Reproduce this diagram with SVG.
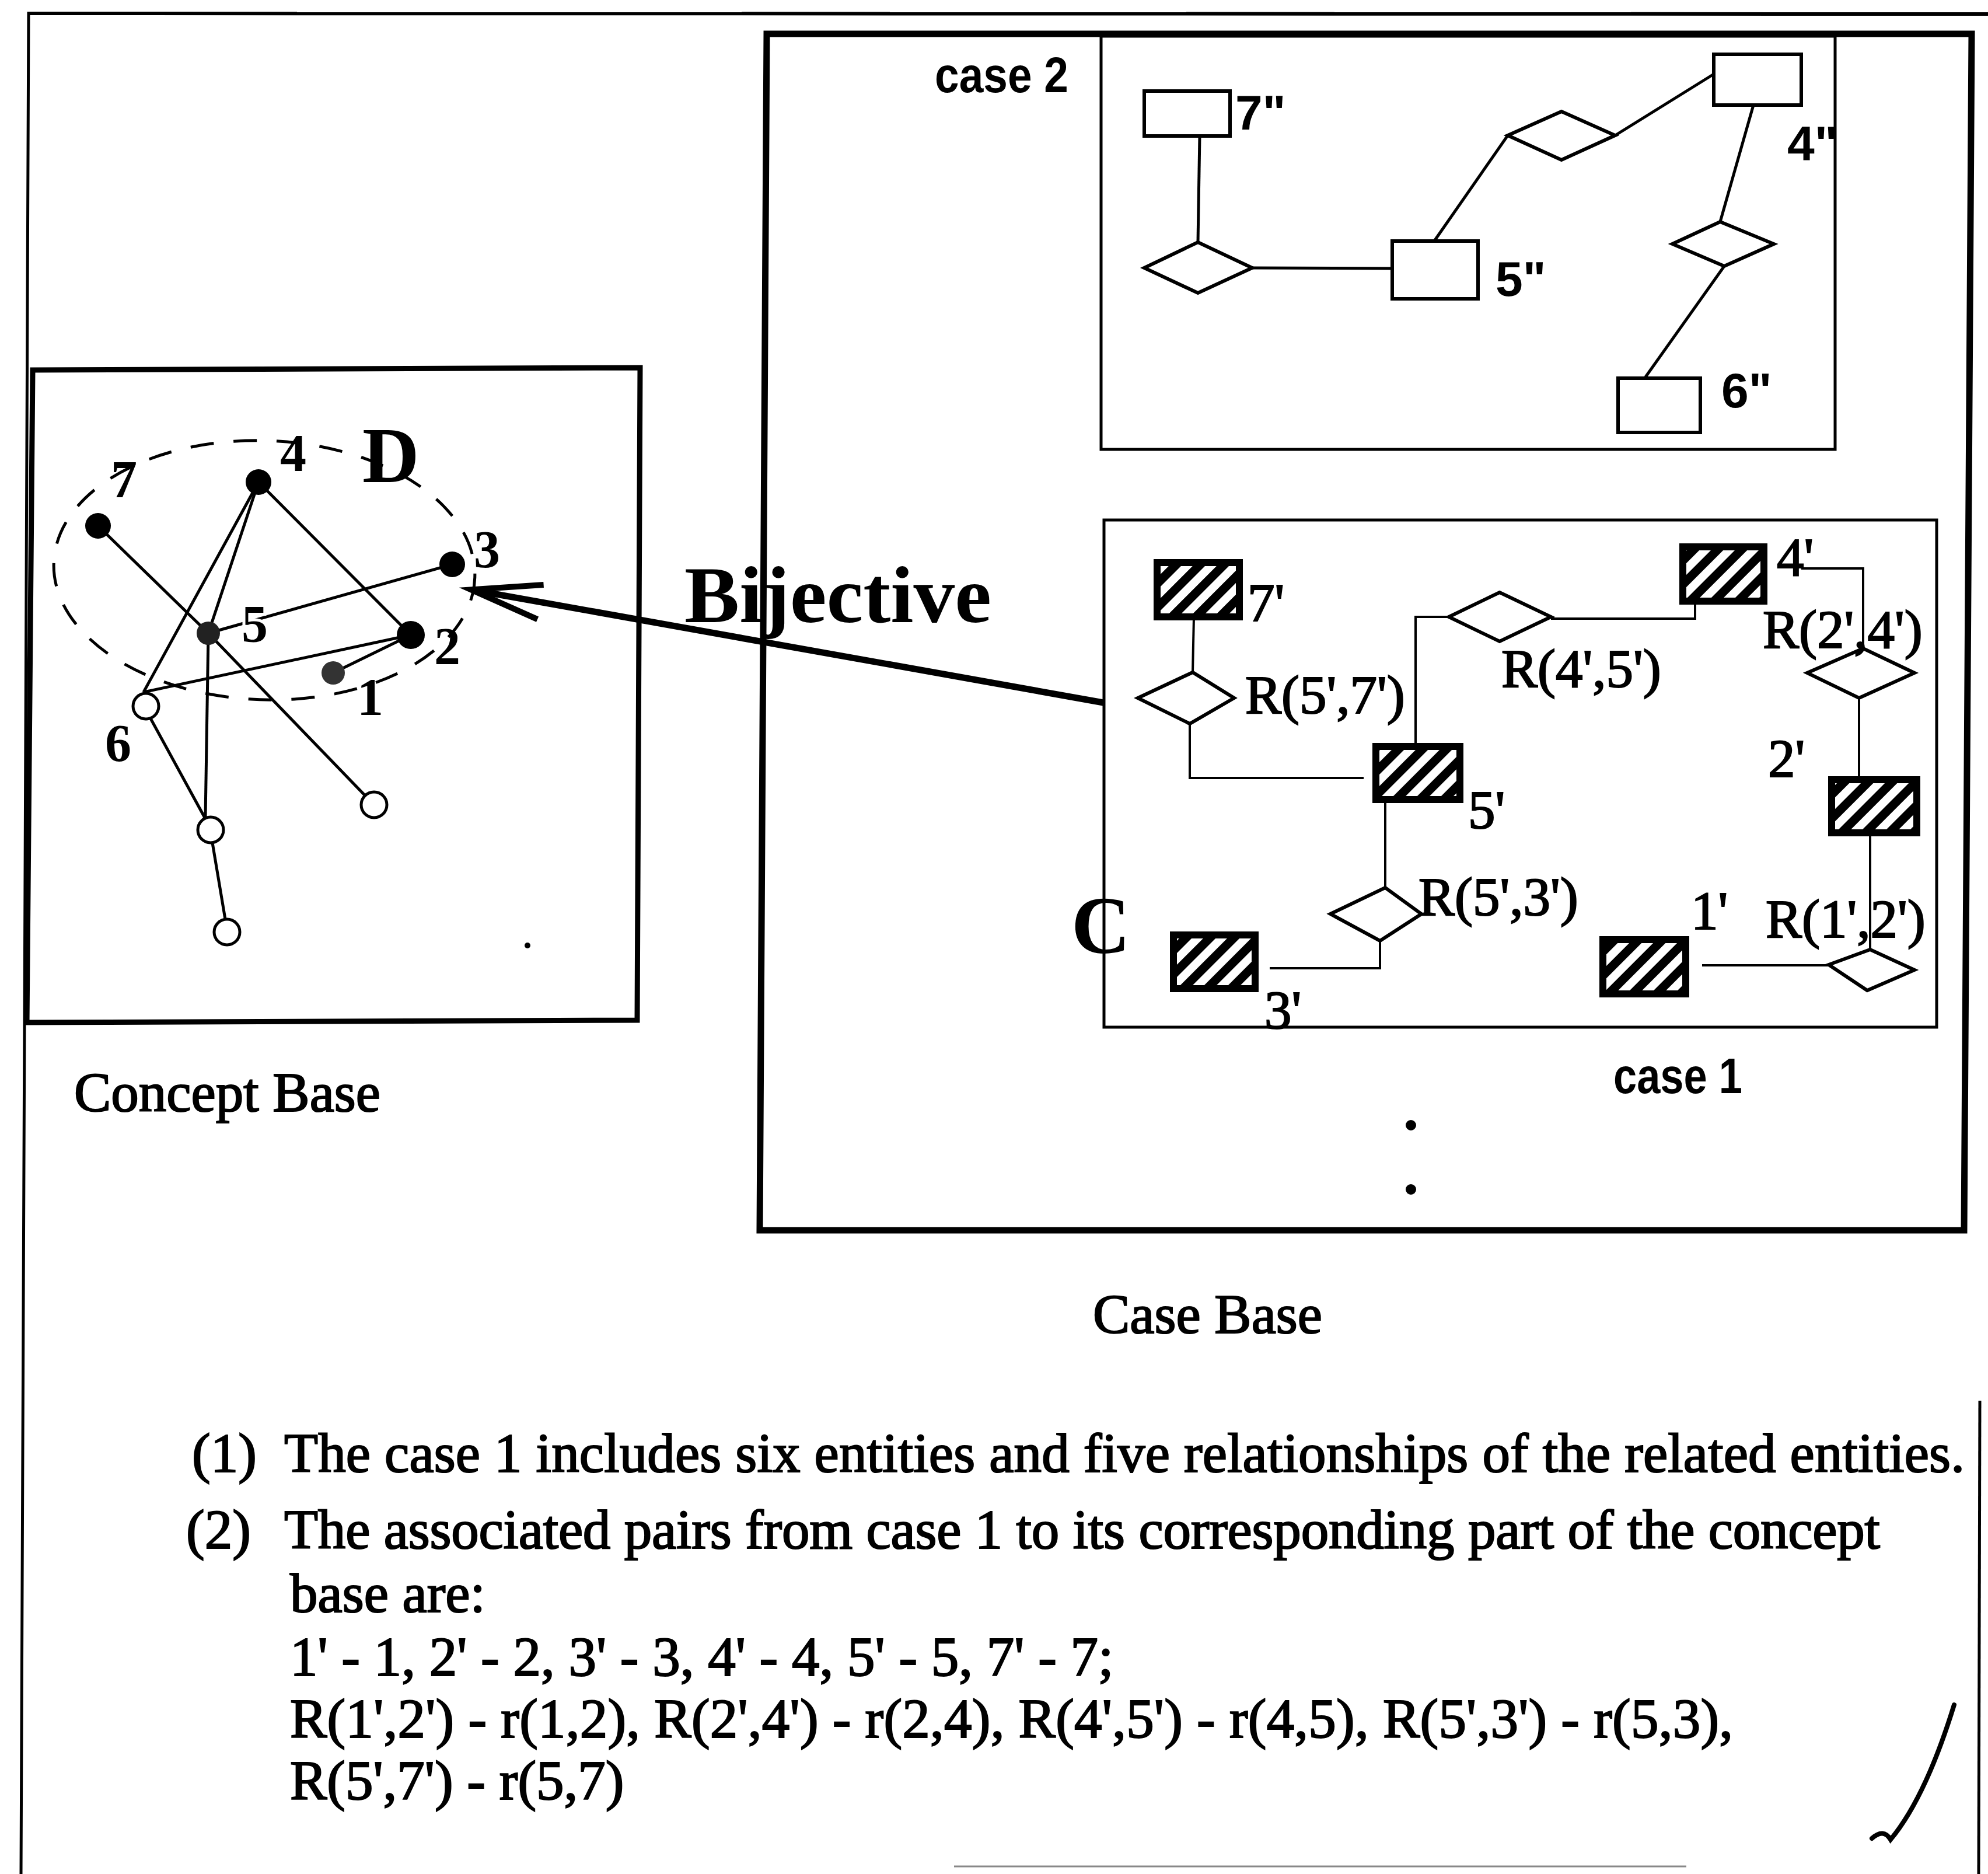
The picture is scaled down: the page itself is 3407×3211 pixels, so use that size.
<svg xmlns="http://www.w3.org/2000/svg" width="3407" height="3211" viewBox="0 0 3407 3211">
<style>
.ser{font-family:"Liberation Serif","Times New Roman",serif;fill:#000;stroke:#000;stroke-width:2.2}
.serb{font-family:"Liberation Serif","Times New Roman",serif;font-weight:bold;fill:#000}
.sb{font-family:"Liberation Sans",Arial,sans-serif;font-weight:bold;fill:#000}
.body{font-size:95px}
.lbl1{font-size:93px}
.lbl2{font-size:84px}
.num{font-size:90px}
.frame{fill:none;stroke:#000}
.ln{fill:none;stroke:#000;stroke-width:5}
.ln4{fill:none;stroke:#000;stroke-width:4}
.ent2{fill:#fff;stroke:#000;stroke-width:6}
.ent1{fill:url(#hatch);stroke:#000;stroke-width:12}
.rel{fill:#fff;stroke:#000;stroke-width:6}
.dot{fill:#000}
.open{fill:#fff;stroke:#000;stroke-width:5}
</style>
<defs>
<pattern id="hatch" width="29" height="29" patternUnits="userSpaceOnUse" patternTransform="rotate(45)">
<rect width="29" height="29" fill="#000"/>
<rect width="14" height="29" fill="#fff"/>
</pattern>
<marker id="vhead" markerUnits="userSpaceOnUse" viewBox="-135 -45 175 90" markerWidth="175" markerHeight="90" refX="-15" refY="0" orient="auto">
<path d="M-121,-30 L0,0 L-121,30" fill="none" stroke="#000" stroke-width="10" stroke-linejoin="miter" stroke-miterlimit="10"/>
</marker>
</defs>
<rect width="3407" height="3211" fill="#fff"/>

<g id="page-frame">
<line x1="47" y1="23" x2="3407" y2="24" stroke="#000" stroke-width="6"/>
<polyline points="49,20 42,1750 36,3211" fill="none" stroke="#000" stroke-width="5"/>
<line x1="3393" y1="2400" x2="3391" y2="3211" stroke="#000" stroke-width="5"/>
<line x1="1635" y1="3198" x2="2890" y2="3198" stroke="#888" stroke-width="3"/>
<path d="M3349,2921 Q3300,3080 3240,3152 Q3228,3132 3208,3150" fill="none" stroke="#000" stroke-width="8" stroke-linecap="round"/>
</g>

<g id="concept-base">
<polygon class="frame" points="56,634 1097,630 1092,1748 46,1752" stroke-width="9"/>
<ellipse cx="453" cy="977" rx="361" ry="222" transform="rotate(2 453 977)" fill="none" stroke="#000" stroke-width="5" stroke-dasharray="40 34"/>
<text class="serb" x="621" y="826" font-size="135">D</text>
</g>

<g id="case-base">
<polygon class="frame" points="1314,58 3379,58 3366,2108 1302,2108" stroke-width="11"/>
<rect id="case2-box" class="frame" x="1887" y="62" width="1258" height="708" stroke-width="5"/>
<rect id="case1-box" class="frame" x="1892" y="891" width="1427" height="869" stroke-width="5"/>
<text class="sb" x="1602" y="158" font-size="86" textLength="229" lengthAdjust="spacingAndGlyphs">case 2</text>
<text class="sb" x="2765" y="1873" font-size="86" textLength="221" lengthAdjust="spacingAndGlyphs">case 1</text>
<text class="serb" x="1836" y="1633" font-size="140">C</text>
<circle cx="2418" cy="1928" r="9" fill="#000"/>
<circle cx="2418" cy="2038" r="9" fill="#000"/>
</g>

<g id="connectors">
<polyline class="ln" points="168,901 357,1085 641,1379"/>
<line class="ln" x1="443" y1="826" x2="704" y2="1088"/>
<line class="ln" x1="443" y1="826" x2="357" y2="1085"/>
<line class="ln" x1="443" y1="826" x2="246" y2="1186"/>
<line class="ln" x1="357" y1="1085" x2="775" y2="967"/>
<line class="ln" x1="246" y1="1186" x2="704" y2="1088"/>
<line class="ln" x1="704" y1="1088" x2="571" y2="1153"/>
<line class="ln" x1="357" y1="1085" x2="352" y2="1400"/>
<line class="ln" x1="258" y1="1231" x2="352" y2="1403"/>
<line class="ln" x1="364" y1="1444" x2="386" y2="1575"/>
<line class="ln" x1="2056" y1="233" x2="2053" y2="415"/>
<line class="ln" x1="2145" y1="459" x2="2386" y2="460"/>
<line class="ln" x1="2458" y1="413" x2="2584" y2="232"/>
<line class="ln" x1="2768" y1="232" x2="2937" y2="127"/>
<line class="ln" x1="3005" y1="180" x2="2948" y2="380"/>
<line class="ln" x1="2955" y1="456" x2="2820" y2="646"/>
<line class="ln4" x1="2046" y1="1057" x2="2044" y2="1152"/>
<polyline class="ln4" points="2039,1240 2039,1333 2337,1333"/>
<polyline class="ln4" points="2426,1279 2426,1057 2483,1057"/>
<polyline class="ln4" points="2658,1060 2905,1060 2905,1030"/>
<polyline class="ln4" points="3087,974 3193,974 3193,1111"/>
<line class="ln4" x1="3186" y1="1196" x2="3186" y2="1336"/>
<line class="ln4" x1="3205" y1="1427" x2="3205" y2="1627"/>
<line class="ln4" x1="2917" y1="1654" x2="3134" y2="1654"/>
<line class="ln4" x1="2374" y1="1370" x2="2374" y2="1521"/>
<polyline class="ln4" points="2365,1612 2365,1659 2176,1659"/>
<line id="bijective-arrow" x1="1891" y1="1204" x2="822" y2="1013" stroke="#000" stroke-width="11" marker-end="url(#vhead)"/>
<text class="serb" x="1173" y="1066" font-size="138" textLength="526" lengthAdjust="spacingAndGlyphs">Bijective</text>
</g>

<g id="cb-node-7"><circle class="dot" cx="168" cy="901" r="22"/><text class="serb num" x="190" y="852">7</text></g>
<g id="cb-node-4"><circle class="dot" cx="443" cy="826" r="22"/><text class="serb num" x="480" y="807">4</text></g>
<g id="cb-node-3"><circle class="dot" cx="775" cy="967" r="22"/><text class="serb num" x="812" y="972">3</text></g>
<g id="cb-node-5"><circle cx="357" cy="1085" r="20" fill="#222"/><text class="serb num" x="414" y="1100" stroke="#fff" stroke-width="10" paint-order="stroke">5</text></g>
<g id="cb-node-2"><circle class="dot" cx="704" cy="1088" r="24"/><text class="serb num" x="744" y="1138">2</text></g>
<g id="cb-node-1"><circle cx="571" cy="1153" r="20" fill="#333"/><text class="serb num" x="612" y="1225">1</text></g>
<g id="cb-node-6"><circle class="open" cx="250" cy="1210" r="22"/><text class="serb num" x="180" y="1304">6</text></g>
<g id="cb-node-a"><circle class="open" cx="641" cy="1379" r="22"/></g>
<g id="cb-node-b"><circle class="open" cx="361" cy="1422" r="22"/></g>
<g id="cb-node-c"><circle class="open" cx="389" cy="1597" r="22"/></g>
<circle cx="904" cy="1620" r="5" fill="#000"/>

<g id="c2-entity-7"><rect class="ent2" x="1961" y="156" width="147" height="77"/><text class="sb lbl2" x="2117" y="222">7"</text></g>
<g id="c2-entity-5"><rect class="ent2" x="2386" y="413" width="147" height="99"/><text class="sb lbl2" x="2563" y="507">5"</text></g>
<g id="c2-entity-4"><rect class="ent2" x="2937" y="93" width="150" height="87"/><text class="sb lbl2" x="3063" y="275">4"</text></g>
<g id="c2-entity-6"><rect class="ent2" x="2773" y="648" width="141" height="93"/><text class="sb lbl2" x="2950" y="698">6"</text></g>
<g id="c2-rel-57"><polygon class="rel" points="1961,459 2053,415 2146,459 2053,502"/></g>
<g id="c2-rel-45"><polygon class="rel" points="2584,232 2676,191 2768,232 2676,274"/></g>
<g id="c2-rel-46"><polygon class="rel" points="2866,418 2948,380 3040,418 2955,456"/></g>

<g id="c1-entity-7"><rect class="ent1" x="1983" y="964" width="141" height="93"/><text class="ser lbl1" x="2138" y="1064">7'</text></g>
<g id="c1-entity-5"><rect class="ent1" x="2358" y="1279" width="144" height="91"/><text class="ser lbl1" x="2516" y="1419">5'</text></g>
<g id="c1-entity-4"><rect class="ent1" x="2884" y="937" width="139" height="93"/><text class="ser lbl1" x="3045" y="986">4'</text></g>
<g id="c1-entity-2"><rect class="ent1" x="3139" y="1336" width="146" height="91"/><text class="ser lbl1" x="3030" y="1331">2'</text></g>
<g id="c1-entity-1"><rect class="ent1" x="2747" y="1610" width="142" height="93"/><text class="ser lbl1" x="2898" y="1592">1'</text></g>
<g id="c1-entity-3"><rect class="ent1" x="2011" y="1602" width="140" height="92"/><text class="ser lbl1" x="2167" y="1762">3'</text></g>

<g id="c1-rel-57"><polygon class="rel" points="1950,1196 2044,1152 2115,1196 2039,1240"/><text class="ser lbl1" x="2134" y="1222">R(5',7')</text></g>
<g id="c1-rel-45"><polygon class="rel" points="2483,1057 2570,1015 2658,1057 2570,1099"/><text class="ser lbl1" x="2573" y="1177">R(4',5')</text></g>
<g id="c1-rel-24"><polygon class="rel" points="3097,1153 3193,1111 3281,1153 3186,1196"/><text class="ser lbl1" x="3021" y="1110">R(2',4')</text></g>
<g id="c1-rel-12"><polygon class="rel" points="3134,1653 3205,1627 3281,1662 3200,1697"/><text class="ser lbl1" x="3026" y="1606">R(1',2')</text></g>
<g id="c1-rel-53"><polygon class="rel" points="2280,1566 2374,1521 2436,1566 2365,1612"/><text class="ser lbl1" x="2431" y="1568">R(5',3')</text></g>

<g id="captions">
<text class="ser body" x="127" y="1904" textLength="525">Concept Base</text>
<text class="ser body" x="1873" y="2284" textLength="393">Case Base</text>
</g>

<g id="notes" class="ser body">
<text x="329" y="2522">(1)</text>
<text x="487" y="2522" textLength="2880">The case 1 includes six entities and five relationships of the related entities.</text>
<text x="319" y="2653">(2)</text>
<text x="487" y="2653" textLength="2735">The associated pairs from case 1 to its corresponding part of the concept</text>
<text x="497" y="2762">base are:</text>
<text x="497" y="2871">1' - 1, 2' - 2, 3' - 3, 4' - 4, 5' - 5, 7' - 7;</text>
<text x="497" y="2977" textLength="2473">R(1',2') - r(1,2), R(2',4') - r(2,4), R(4',5') - r(4,5), R(5',3') - r(5,3),</text>
<text x="497" y="3083">R(5',7') - r(5,7)</text>
</g>
</svg>
